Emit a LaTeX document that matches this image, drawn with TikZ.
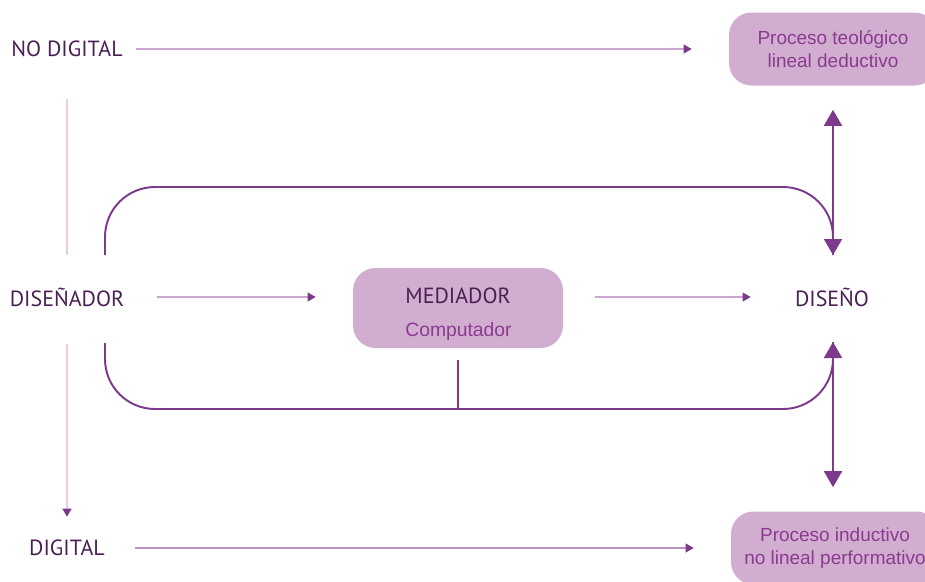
\documentclass[tikz,border=0pt]{standalone}
\usepackage{fontspec}
\newfontfamily\labelfont{PT Sans}
\newfontfamily\boxfont{Liberation Sans}
\usepackage{xcolor}
\definecolor{darktext}{RGB}{74,32,84}
\definecolor{boxfill}{RGB}{209,174,208}
\definecolor{boxtext}{RGB}{140,58,145}
\definecolor{strongline}{RGB}{125,58,140}
\definecolor{softline}{RGB}{205,165,210}
\definecolor{paleline}{RGB}{228,206,231}
\usetikzlibrary{arrows.meta}

\begin{document}
\begin{tikzpicture}[
  every node/.style={inner sep=0pt},
  label/.style={font=\labelfont\fontsize{12.5}{14}\selectfont, text=darktext},
  procbox/.style={fill=boxfill, rounded corners=0.45cm, minimum width=4.16cm, minimum height=1.46cm,
    align=center, text=boxtext, font=\boxfont\fontsize{10.8}{13}\selectfont},
  thinarrow/.style={draw=softline, line width=0.6pt, -{Triangle[length=1.6mm, width=1.8mm, color=strongline]}},
  paleline/.style={draw=paleline, line width=0.8pt},
  loopline/.style={draw=strongline, line width=1.1pt, rounded corners=1cm},
  bigarrow/.style={draw=strongline, line width=1.1pt, {Triangle[length=3.2mm, width=3.6mm]}-{Triangle[length=3.2mm, width=3.6mm]}}
]
  \useasboundingbox (0,0) rectangle (18.5,11.62);

  % Left column
  \node[label] (nodig) at (1.34,10.64) {NO DIGITAL};
  \node[label] (disenador) at (1.34,5.68) {DISEÑADOR};
  \node[label] (dig) at (1.34,0.66) {DIGITAL};

  % Mediator box
  \node[fill=boxfill, rounded corners=0.45cm, minimum width=4.2cm, minimum height=1.6cm] (med) at (9.16,5.46) {};
  \node[label] (medname) at (9.16,5.7) {MEDIADOR};
  \node[text=boxtext, font=\boxfont\fontsize{11}{13}\selectfont] (medsub) at (9.17,5.0) {Computador};

  % Right column
  \node[label] (diseno) at (16.64,5.68) {DISEÑO};
  \node[procbox] (teo) at (16.66,10.64) {Proceso teológico\\lineal deductivo};
  \node[procbox] (ind) at (16.7,0.66) {Proceso inductivo\\no lineal performativo};

  % Loop anchors
  \coordinate (ln) at ([xshift=0.76cm, yshift=0.84cm]disenador.center);
  \coordinate (ls) at ([xshift=0.76cm, yshift=-0.92cm]disenador.center);
  \coordinate (dn) at ([xshift=0.02cm, yshift=0.84cm]diseno.center);
  \coordinate (ds) at ([xshift=0.02cm, yshift=-0.9cm]diseno.center);
  \coordinate (up) at (0,7.88);
  \coordinate (low) at (0,3.44);

  % Horizontal arrows
  \draw[thinarrow, shorten <=0.26cm, shorten >=0.74cm] (nodig) -- (teo);
  \draw[thinarrow, draw=softline!80!strongline, shorten <=0.6cm, shorten >=0.74cm] (dig) -- (ind);
  \draw[thinarrow, shorten <=0.66cm, shorten >=0.74cm] (disenador) -- (disenador -| med.west);
  \draw[thinarrow, shorten <=0.64cm, shorten >=0.88cm] (disenador -| med.east) -- (diseno);

  % Vertical lines on the left
  \draw[paleline, shorten <=0.84cm, shorten >=0.64cm] (nodig) -- (disenador);
  \draw[paleline, -{Triangle[length=1.6mm, width=1.8mm, color=strongline]}, shorten <=0.74cm, shorten >=0.46cm] (disenador) -- (dig);

  % Loops
  \draw[loopline] (ln) -- (ln |- up) -- (dn |- up) -- (dn);
  \draw[loopline] (ls) -- (ls |- low) -- (ds |- low) -- (ds);
  \draw[strongline, line width=1.1pt] ([yshift=-0.24cm]med.south) -- (med.south |- low);

  % Double arrows
  \draw[bigarrow, shorten >=0.48cm] (dn) -- (teo.south);
  \draw[bigarrow, shorten >=0.48cm] (ds) -- ([xshift=-0.04cm]ind.north);
\end{tikzpicture}
\end{document}
